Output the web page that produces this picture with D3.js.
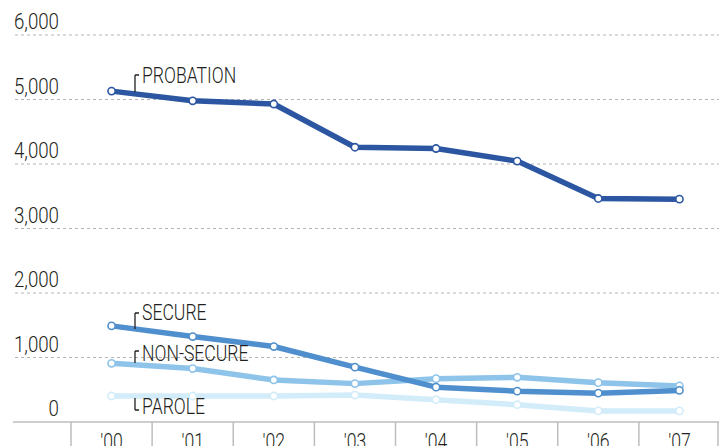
<!DOCTYPE html>
<html>
<head>
<meta charset="utf-8">
<script src="https://cdn.jsdelivr.net/npm/d3@7/dist/d3.min.js"></script>
<style>
  html, body { margin: 0; padding: 0; background: #fff; }
  svg { display: block; }
  text { font-family: "Roboto", "DejaVu Sans Condensed", sans-serif; fill: #231f20; font-size: 22px; font-weight: 300; }
</style>
</head>
<body>
<div id="chart"></div>
<script>
// years on the x axis
var years = ["'00", "'01", "'02", "'03", "'04", "'05", "'06", "'07"];
var yTicks = [0, 1000, 2000, 3000, 4000, 5000, 6000];

// series values
var probation = [5130, 4980, 4930, 4260, 4240, 4045, 3465, 3455];
var secure    = [1490, 1325, 1170, 850, 540, 478, 447, 490];
var nonSecure = [910, 828, 652, 595, 672, 693, 610, 560];
var parole    = [403, 403, 403, 418, 346, 268, 172, 172];

var seriesNames = ['PROBATION', 'SECURE', 'NON-SECURE', 'PAROLE'];
var seriesColors = ['#2c56a2', '#4f8fcd', '#8ec3ea', '#d2ecf9'];
var seriesValues = [probation, secure, nonSecure, parole];

var W = 719, H = 446;
var SX = 0.8; // squeeze text horizontally to get the condensed look
var svg = d3.select('#chart').append('svg').attr('width', W).attr('height', H);

var x = d3.scaleBand().domain(years).range([71, 720]).padding(0);
var y = d3.scaleLinear().domain([0, 6000]).range([422, 35]);
var cx = function (i) { return x(years[i]) + x.bandwidth() / 2; };
var tr = function (tx, ty, s) { return 'translate(' + tx + ',' + ty + ') scale(' + (s || SX) + ',1)'; };

// dashed gridlines
svg.append('g').selectAll('line').data(yTicks.filter(function (d) { return d > 0; })).join('line')
  .attr('x1', 15).attr('x2', W).attr('y1', function (d) { return y(d); }).attr('y2', function (d) { return y(d); })
  .attr('stroke', '#b5b5b5').attr('stroke-width', 1).attr('stroke-dasharray', '3,3');

// y labels, sitting above their gridline
svg.append('g').selectAll('text').data(yTicks).join('text')
  .attr('transform', function (d) { return tr(59, y(d) - 6, 0.85); })
  .attr('text-anchor', 'end')
  .text(function (d) { return d3.format(',')(d); });

// x axis: baseline + separators + year labels
svg.append('line').attr('x1', 13).attr('x2', W).attr('y1', 422).attr('y2', 422)
  .attr('stroke', '#bdbdbd').attr('stroke-width', 1.5);
svg.append('g').selectAll('line').data(years).join('line')
  .attr('x1', function (d) { return x(d); }).attr('x2', function (d) { return x(d); })
  .attr('y1', 422).attr('y2', H).attr('stroke', '#bdbdbd').attr('stroke-width', 1.5);
svg.append('line').attr('x1', 718).attr('x2', 718).attr('y1', 422).attr('y2', H)
  .attr('stroke', '#bdbdbd').attr('stroke-width', 1.5);
svg.append('g').selectAll('text').data(years).join('text')
  .attr('transform', function (d) { return tr(x(d) + x.bandwidth() / 2, 449); })
  .attr('text-anchor', 'middle')
  .text(function (d) { return d; });

// lines, drawn back to front so probation sits on top
var line = d3.line().x(function (d, i) { return cx(i); }).y(function (d) { return y(d); });
[3, 2, 1, 0].forEach(function (k) {
  var g = svg.append('g');
  g.append('path').datum(seriesValues[k]).attr('d', line)
    .attr('fill', 'none').attr('stroke', seriesColors[k]).attr('stroke-width', 5.5)
    .attr('stroke-linejoin', 'round');
  g.selectAll('circle').data(seriesValues[k]).join('circle')
    .attr('cx', function (d, i) { return cx(i); }).attr('cy', function (d) { return y(d); })
    .attr('r', 3.6).attr('fill', '#fff').attr('stroke', seriesColors[k]).attr('stroke-width', 1.6);
});

// series labels with little bracket markers
var labels = [
  { name: seriesNames[0], top: 75, bottom: 92, base: 83, down: false },
  { name: seriesNames[1], top: 313, bottom: 329, base: 320, down: false },
  { name: seriesNames[2], top: 351, bottom: 363, base: 361, down: false },
  { name: seriesNames[3], top: 398, bottom: 410, base: 414, down: true }
];
var lg = svg.append('g');
labels.forEach(function (l) {
  var hy = l.down ? l.bottom : l.top;
  lg.append('path')
    .attr('d', 'M135,' + l.top + 'V' + l.bottom + 'M135,' + hy + 'H139')
    .attr('fill', 'none').attr('stroke', '#231f20').attr('stroke-width', 1.3);
  lg.append('text').attr('transform', tr(142, l.base)).text(l.name);
});
</script>
</body>
</html>
